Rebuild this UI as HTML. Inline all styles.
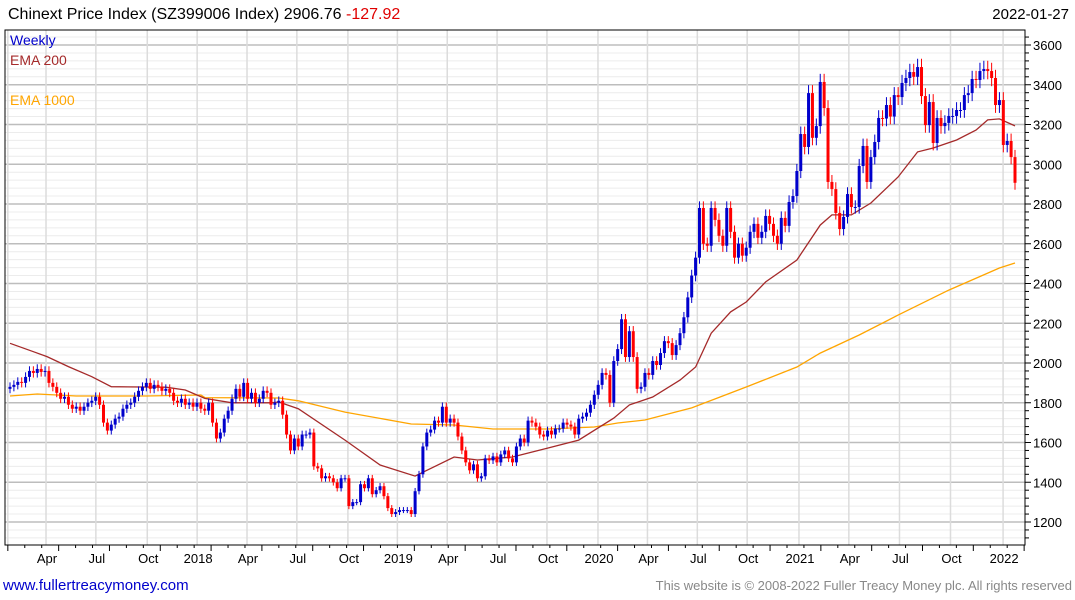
<!DOCTYPE html>
<html><head><meta charset="utf-8">
<style>
html,body{margin:0;padding:0;background:#fff;width:1075px;height:600px;overflow:hidden;font-family:"Liberation Sans",sans-serif;}
svg{position:absolute;left:0;top:0;}
</style></head>
<body>
<svg id="chart" width="1075" height="600" viewBox="0 0 1075 600" xmlns="http://www.w3.org/2000/svg">
  <rect x="0" y="0" width="1075" height="600" fill="#fff"/>
  <g id="grid"></g>
  <g id="emas"></g>
  <g id="candles"></g>
  <g id="axes"></g>
  <text x="8" y="19" font-size="16" fill="#000">Chinext Price Index (SZ399006 Index) 2906.76 <tspan fill="#e00000">-127.92</tspan></text>
  <text x="1069" y="19" font-size="15" fill="#000" text-anchor="end">2022-01-27</text>
  <text x="10" y="45" font-size="14" fill="#0000cc">Weekly</text>
  <text x="10" y="65" font-size="14" fill="#a52a2a">EMA 200</text>
  <text x="10" y="105" font-size="14" fill="#ffa500">EMA 1000</text>
  <text x="3" y="590" font-size="15" fill="#0000cc">www.fullertreacymoney.com</text>
  <text x="1072" y="590" font-size="13" fill="#888" text-anchor="end">This website is © 2008-2022 Fuller Treacy Money plc. All rights reserved</text>
</svg>
<script>
const closes = [1880,1890,1905,1900,1930,1960,1950,1970,1955,1960,1900,1880,1850,1820,1830,1790,1770,1780,1760,1780,1800,1810,1830,1790,1700,1660,
1690,1720,1730,1770,1790,1800,1830,1860,1880,1900,1870,1890,1880,1860,1870,
1850,1810,1800,1820,1790,1800,1780,1800,1770,1760,1800,1700,1620,1650,1720,
1760,1820,1870,1830,1900,1820,1850,1800,1820,1860,1850,1790,1800,1810,1740,
1640,1560,1620,1580,1640,1640,1650,1480,1470,1420,1430,1420,1400,1370,1420,1420,1280,1300,1300,1390,1370,1420,1340,1360,1380,1330,1270,1240,1250,1260,1260,1260,1240,1355,1440,1580,1650,1665,1710,1700,1780,1700,1720,1700,1630,1560,1500,1460,1490,1420,1430,1520,1510,1530,1500,1540,1560,1520,1500,1580,1620,1600,1710,1700,1680,1640,1630,1660,1640,1670,1670,1700,1690,1680,1640,1720,1730,1750,1790,1840,1890,1950,1940,1800,2010,
2070,2220,2030,2160,2030,1870,1880,1950,1940,2010,1990,2050,2110,2100,2040,2090,2150,2230,2330,2440,2530,2780,2600,2590,2780,2720,2640,2590,2780,2660,2530,2600,2540,2580,2660,2700,2630,2660,2740,2700,2640,2600,2730,2690,2810,
2840,2966,3152,3087,3358,3133,3192,3414,3283,2911,2875,2755,2674,2735,2850,2785,2785,2991,3092,2911,3036,3112,3233,3230,3298,3240,3348,3338,3409,3434,3464,3440,3489,3343,3197,3313,3107,3233,3192,3208,3243,3243,3273,3273,3348,3358,3429,3424,3469,3479,3469,3434,3298,3323,3097,3117,3036,2906.76];
const firstOpen = 1870;
const ema200Weeks = [0,6,9.5,15,21,26,40,45,50,57,67,69,74,86,95,104,114,120,129,138,146,155,159,165,172,176,180,185,189,194,202,208,211,216,221,228,233,237,243,248,251,254,258];
const ema200Vals = [2099,2057,2032,1982,1931,1881,1878,1864,1822,1800,1800,1804,1770,1612,1487,1431,1527,1512,1527,1572,1612,1723,1789,1829,1914,1980,2150,2257,2307,2408,2518,2694,2745,2745,2805,2936,3062,3082,3122,3172,3223,3228,3193];
const ema1000Weeks = [0,7,17,35,49,50,69,74,86,103,114,124,138,150,156,163,175,189,202,208,218,228,241,254,258];
const ema1000Vals = [1834,1844,1834,1834,1839,1826,1824,1810,1753,1693,1688,1668,1668,1678,1698,1713,1774,1879,1980,2050,2141,2241,2367,2478,2503];
const yTicks = [1200,1400,1600,1800,2000,2200,2400,2600,2800,3000,3200,3400,3600];
const xTickLabels = ["","Apr","Jul","Oct","2018","Apr","Jul","Oct","2019","Apr","Jul","Oct","2020","Apr","Jul","Oct","2021","Apr","Jul","Oct","2022"];
const xTickWeeks = [-0.3,9.5,22.3,35.5,48.3,61.1,73.9,87,99.7,112.5,125.3,138.1,151.2,163.9,176.7,189.5,202.8,215.6,228.6,241.7,255.2];

const NS="http://www.w3.org/2000/svg";
const L=5,R=1025,T=30,B=545;
const N=closes.length;
const step=1005/(N-1);
function xw(i){return 10+i*step;}
function yv(v){return 522-(v-1200)*0.19875;}
function mk(tag,attrs,parent){const e=document.createElementNS(NS,tag);for(const k in attrs)e.setAttribute(k,attrs[k]);parent.appendChild(e);return e;}
const grid=document.getElementById('grid'),axes=document.getElementById('axes'),cg=document.getElementById('candles'),eg=document.getElementById('emas');

// horizontal grid: minor every 40, major every 200
for(let v=1120;v<=3680;v+=40){
  const y=yv(v); if(y<T||y>B) continue;
  const major=(v%200===0);
  const ln=mk('line',{x1:L,x2:R,y1:y,y2:y,stroke:major?'#bdbdbd':'#ececec','stroke-width':major?1.5:1},grid);
  
  
  const tk=mk('line',{x1:R,x2:R+(major?6:4),y1:y,y2:y,stroke:'#000','stroke-width':1},axes);
  
  
}
yTicks.forEach(v=>{
  const t=mk('text',{x:R+8,y:yv(v)+5,'font-size':13,fill:'#000'},axes);
  t.textContent=v;
  
  
});
// vertical grid
xTickWeeks.forEach((w,k)=>{
  const x=xw(w)-1;
  const ln=mk('line',{x1:x,x2:x,y1:T,y2:B,stroke:'#dcdcdc','stroke-width':1.5},grid);
  
  
  if(xTickLabels[k]){
    const t=mk('text',{x:x+1,y:563,'font-size':13,fill:'#000','text-anchor':'middle'},axes);
    t.textContent=xTickLabels[k];
    
    
  }
});
// month ticks on x axis
for(let m=0;m<=60;m++){
  const w=-0.3+m*(52.18/12);
  const x=xw(w)-1; if(x>R) break;
  const tk=mk('line',{x1:x,x2:x,y1:B,y2:B+(m%3===0?6:3),stroke:'#000','stroke-width':1},axes);
  
  
}
// frame
const fr=mk('rect',{x:L,y:T,width:R-L,height:B-T,fill:'none',stroke:'#000','stroke-width':1},axes);



// EMA lines
function poly(weeks,vals,color,name){
  const pts=weeks.map((w,i)=>xw(w).toFixed(1)+','+yv(vals[i]).toFixed(1)).join(' ');
  const p=mk('polyline',{points:pts,fill:'none',stroke:color,'stroke-width':1.3},eg);
  
  
}
poly(ema1000Weeks,ema1000Vals,'#ffa500','ema-1000-line');
poly(ema200Weeks,ema200Vals,'#a52a2a','ema-200-line');

// candles
for(let i=0;i<N;i++){
  const o=i===0?firstOpen:closes[i-1], c=closes[i];
  const up=c>=o, col=up?'#0000cc':'#ff0000';
  const hi=Math.max(o,c)*1.012, lo=Math.min(o,c)*0.988;
  const x=xw(i);
  const w=mk('line',{x1:x,x2:x,y1:yv(hi),y2:yv(lo),stroke:col,'stroke-width':1},cg);
  
  
  const yt=yv(Math.max(o,c)), yb=yv(Math.min(o,c));
  const r=mk('rect',{x:x-1.5,y:yt,width:3,height:Math.max(1,yb-yt),fill:col},cg);
  
  
}
</script>
</body></html>
